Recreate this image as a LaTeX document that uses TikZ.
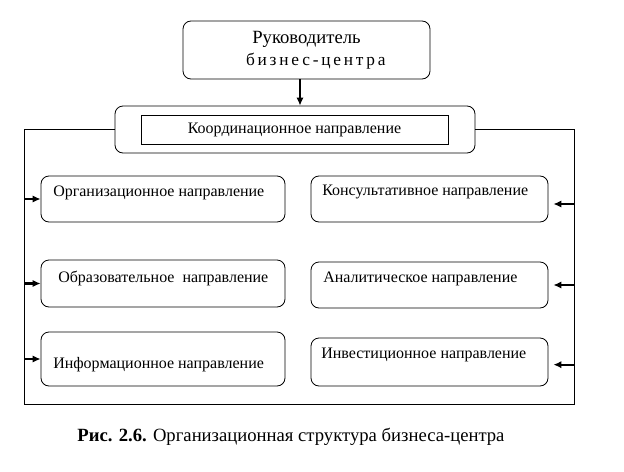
\documentclass[tikz,border=0pt]{standalone}
\usepackage{fontspec}
\setmainfont{LiberationSerif}[Extension = .ttf, UprightFont = *-Regular, BoldFont = *-Bold,
  ItalicFont = *-Italic, BoldItalicFont = *-BoldItalic]
\usepackage{tikz}
\usetikzlibrary{arrows.meta}
\usetikzlibrary{positioning}
\tikzset{dirbox/.style = {draw, rounded corners = 6pt, inner sep = 0, line width = 0.6pt}}
\tikzset{dirtext/.style = {anchor = west, inner sep = 0, font = \fontsize{12}{14}\selectfont}}
\tikzset{arr/.style = {-{Latex[length = 6pt, width = 5.5pt]}, line width = 1.7pt}}

\begin{document}
\begin{tikzpicture}[x = 0.75pt, y = -0.75pt]
          \useasboundingbox (0, 0) rectangle (624, 471);

          \node [dirbox, minimum width = 185.25pt, minimum height = 43.5pt, align = center,
                 font = \fontsize{14}{16.5}\selectfont] (head) at (306.5, 50)
                {Руководитель\\\hspace*{14pt}{\fontsize{13}{16.5}\selectfont\addfontfeature{LetterSpace = 16}бизнес-центра}};
          \node [dirbox, minimum width = 270pt, minimum height = 35.25pt] (coordbox) at (295, 129.5) {};
          \node [draw, inner sep = 0, line width = 0.6pt, minimum width = 230.25pt, minimum height = 21.75pt,
                 font = \fontsize{12}{14}\selectfont] (coord) at (294.5, 129.5) {Координационное направление};
          \draw [arr] (head.south -| 300, 0) -- (coordbox.north -| 300, 0);

          \coordinate (fnw) at (24, 129.5);
          \coordinate (fse) at (574, 404);
          \draw [line width = 0.6pt] (coordbox.west) -- (fnw) -- (fnw |- fse) -- (fse) -- (fse |- fnw) -- (coordbox.east);

          \node [dirbox, minimum width = 183pt, minimum height = 34.5pt] (orgbox) at (163, 199) {};
          \node [dirbox, minimum width = 183pt, minimum height = 35.25pt] (edubox) at (163, 283.5) {};
          \node [dirbox, minimum width = 183pt, minimum height = 40.5pt] (infbox) at (163, 359) {};
          \node [dirbox, minimum width = 177.75pt, minimum height = 34.5pt] (conbox) at (429.5, 199) {};
          \node [dirbox, minimum width = 177.75pt, minimum height = 34.5pt] (anabox) at (429.5, 285) {};
          \node [dirbox, minimum width = 177.75pt, minimum height = 36pt] (invbox) at (429.5, 362) {};

          \node [dirtext] (org) at (53, 193) {Организационное направление};
          \node [dirtext] (edu) at (58, 278) {Образовательное~ направление};
          \node [dirtext] (inf) at (53, 365) {Информационное направление};
          \node [dirtext] (con) at (322, 192) {Консультативное направление};
          \node [dirtext] (ana) at (323, 279) {Аналитическое направление};
          \node [dirtext] (inv) at (321, 355) {Инвестиционное направление};

          \draw [arr] (orgbox.west -| fnw) -- (orgbox.west);
          \draw [arr] (edubox.west -| fnw) -- (edubox.west);
          \draw [arr] (infbox.west -| fnw) -- (infbox.west);
          \draw [arr, shorten > = 3.75pt] ([yshift = -3.75pt] conbox.east -| fse) -- ([yshift = -3.75pt] conbox.east);
          \draw [arr, shorten > = 3.75pt] (anabox.east -| fse) -- (anabox.east);
          \draw [arr, shorten > = 3.75pt] ([yshift = -2pt] invbox.east -| fse) -- ([yshift = -2pt] invbox.east);

          \node [font = \fontsize{14}{17}\selectfont] (cap) at (291, 437)
                {\textbf{Рис. 2.6.} Организационная структура бизнеса-центра};
        \end{tikzpicture}
\end{document}
